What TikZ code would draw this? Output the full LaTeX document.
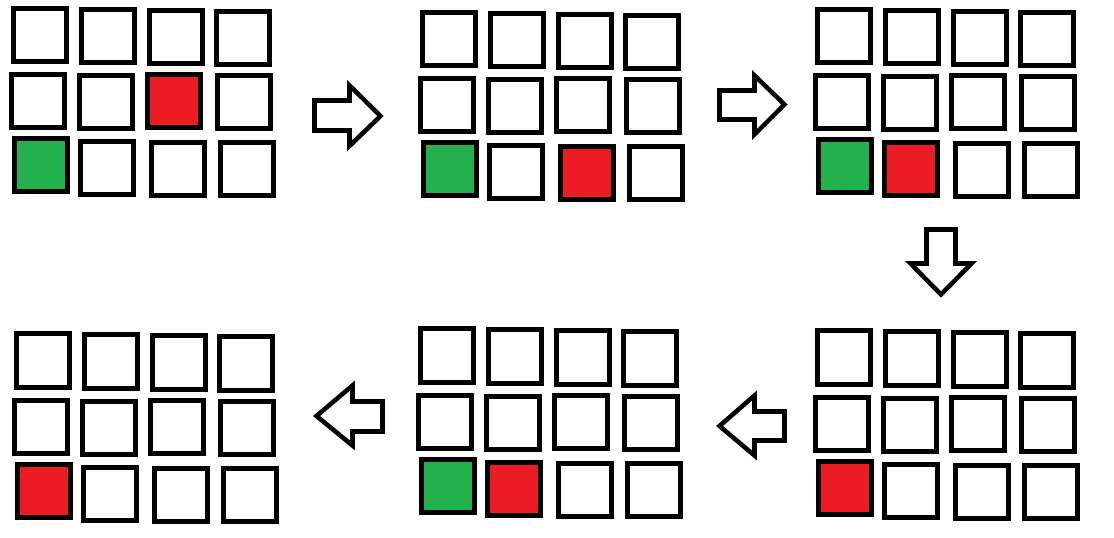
\documentclass[tikz,border=0pt]{standalone}
\definecolor{pgreen}{HTML}{22B14C}
\definecolor{pred}{HTML}{ED1C24}
\begin{document}
\begin{tikzpicture}[x=0.75pt,y=-0.75pt,
  sq/.style={draw=black,line width=3.75pt,minimum size=39.75pt,inner sep=0pt,outer sep=0pt,fill=white},
  gsq/.style={sq,fill=pgreen},
  rsq/.style={sq,fill=pred},
  barrow/.style={draw=black,line width=3.4pt,line join=miter,fill=white}]
\useasboundingbox[fill=white] (0,0) rectangle (1114,538);
% Panel 1
\node[sq] (a11) at (40,35.5) {};
\node[sq] (a12) at (108,36.5) {};
\node[sq] (a13) at (176,37) {};
\node[sq] (a14) at (243,38.5) {};
\node[sq] (a21) at (37.5,101.5) {};
\node[sq] (a22) at (106,102.5) {};
\node[rsq] (a23) at (174,101.5) {};
\node[sq] (a24) at (244,102.5) {};
\node[gsq] (a31) at (41,165.5) {};
\node[sq] (a32) at (107,168.5) {};
\node[sq] (a33) at (178,169) {};
\node[sq] (a34) at (247,169) {};
% Panel 2
\node[sq] (b11) at (449,39) {};
\node[sq] (b12) at (517,40) {};
\node[sq] (b13) at (585,41) {};
\node[sq] (b14) at (652,42.5) {};
\node[sq] (b21) at (447,105.5) {};
\node[sq] (b22) at (515,106.5) {};
\node[sq] (b23) at (583,105.5) {};
\node[sq] (b24) at (653,106.5) {};
\node[gsq] (b31) at (450,169.5) {};
\node[sq] (b32) at (516,172.5) {};
\node[rsq] (b33) at (587,173.5) {};
\node[sq] (b34) at (656,173.5) {};
% Panel 3
\node[sq] (c11) at (844,36.5) {};
\node[sq] (c12) at (912,37.5) {};
\node[sq] (c13) at (980,38.5) {};
\node[sq] (c14) at (1047,39.5) {};
\node[sq] (c21) at (842,102.5) {};
\node[sq] (c22) at (910,103.5) {};
\node[sq] (c23) at (978,102.5) {};
\node[sq] (c24) at (1048,103.5) {};
\node[gsq] (c31) at (845,166.5) {};
\node[rsq] (c32) at (911,169.5) {};
\node[sq] (c33) at (982,170.5) {};
\node[sq] (c34) at (1051,170.5) {};
% Panel 4 (bottom right)
\node[sq] (d11) at (844,357.5) {};
\node[sq] (d12) at (912,358.5) {};
\node[sq] (d13) at (980,359.5) {};
\node[sq] (d14) at (1047,360.5) {};
\node[sq] (d21) at (842,423.5) {};
\node[sq] (d22) at (910,424.5) {};
\node[sq] (d23) at (978,423.5) {};
\node[sq] (d24) at (1048,424.5) {};
\node[rsq] (d31) at (845,487.5) {};
\node[sq] (d32) at (911,490.5) {};
\node[sq] (d33) at (982,491.5) {};
\node[sq] (d34) at (1051,491.5) {};
% Panel 5 (bottom middle)
\node[sq] (e11) at (447,355.5) {};
\node[sq] (e12) at (515,356.5) {};
\node[sq] (e13) at (583,357.5) {};
\node[sq] (e14) at (650,358.5) {};
\node[sq] (e21) at (445,421.5) {};
\node[sq] (e22) at (513,422.5) {};
\node[sq] (e23) at (581,421.5) {};
\node[sq] (e24) at (651,422.5) {};
\node[gsq] (e31) at (448,485.5) {};
\node[rsq] (e32) at (514,488.5) {};
\node[sq] (e33) at (585,489.5) {};
\node[sq] (e34) at (654,489.5) {};
% Panel 6 (bottom left)
\node[sq] (f11) at (43,360.5) {};
\node[sq] (f12) at (111,361.5) {};
\node[sq] (f13) at (179,362.5) {};
\node[sq] (f14) at (246,363.5) {};
\node[sq] (f21) at (41,426.5) {};
\node[sq] (f22) at (109,427.5) {};
\node[sq] (f23) at (177,426.5) {};
\node[sq] (f24) at (247,427.5) {};
\node[rsq] (f31) at (44,490.5) {};
\node[sq] (f32) at (110,493.5) {};
\node[sq] (f33) at (181,494.5) {};
\node[sq] (f34) at (250,494.5) {};
% Block arrows
\draw[barrow] (314.5,100.5) -- (349.5,100.5) -- (349.5,85.5) -- (380.5,116) -- (349.5,146) -- (349.5,130.5) -- (314.5,130.5) -- cycle;
\draw[barrow] (719.5,90.5) -- (754.5,90.5) -- (754.5,75.5) -- (784.5,104.5) -- (754.5,134.5) -- (754.5,119.5) -- (719.5,119.5) -- cycle;
\draw[barrow] (926.5,229.5) -- (955.5,229.5) -- (955.5,263.5) -- (971.5,263.5) -- (941,294.5) -- (910.5,263.5) -- (926.5,263.5) -- cycle;
\draw[barrow] (784.5,411.5) -- (754.5,411.5) -- (754.5,395.5) -- (719.5,426) -- (754.5,455.5) -- (754.5,440.5) -- (784.5,440.5) -- cycle;
\draw[barrow] (382.5,401.5) -- (352.5,401.5) -- (352.5,385.5) -- (316.5,416) -- (352.5,445.5) -- (352.5,431.5) -- (382.5,431.5) -- cycle;
\end{tikzpicture}
\end{document}
